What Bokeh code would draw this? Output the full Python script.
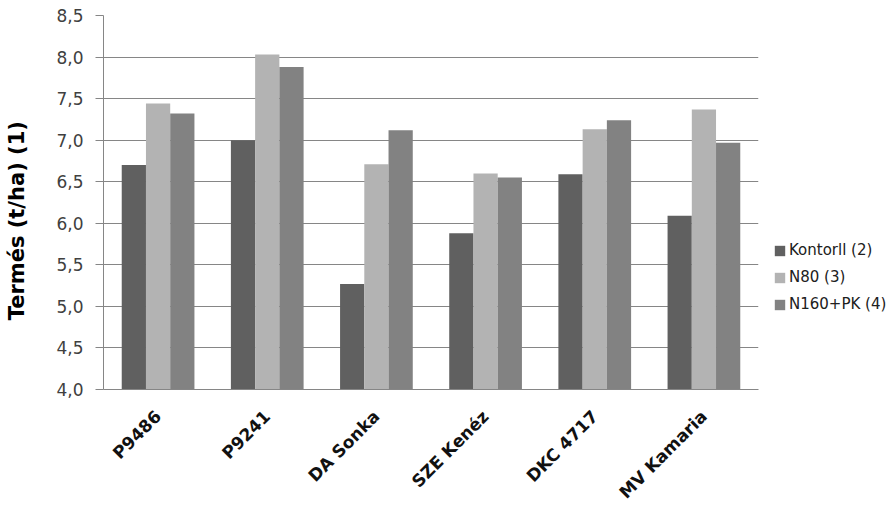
from bokeh.plotting import figure
from bokeh.models import (FactorRange, Range1d, FixedTicker, CustomJSTickFormatter, Legend,
                          LegendItem, ColumnDataSource)
from bokeh.transform import dodge
from bokeh.embed import file_html
from bokeh.resources import INLINE
import math

categories = ["P9486", "P9241", "DA Sonka", "SZE Kenéz", "DKC 4717", "MV Kamaria"]
kontroll = [6.70, 7.00, 5.27, 5.88, 6.59, 6.09]
n80 = [7.44, 8.03, 6.71, 6.60, 7.13, 7.37]
n160pk = [7.32, 7.88, 7.12, 6.55, 7.24, 6.97]
series_names = ["Kontorll (2)", "N80 (3)", "N160+PK (4)"]
y_ticks = [4.0, 4.5, 5.0, 5.5, 6.0, 6.5, 7.0, 7.5, 8.0, 8.5]
y_title = "Termés (t/ha) (1)"
colors = ["#606060", "#b3b3b3", "#828282"]

FONT = "DejaVu Sans"

p = figure(frame_width=655, frame_height=374,
           x_range=FactorRange(factors=categories, range_padding=0),
           y_range=Range1d(4.0, 8.5), output_backend="svg", toolbar_location=None,
           min_border_left=103, min_border_right=10, min_border_top=15, min_border_bottom=100)
p.outline_line_color = None
p.background_fill_color = "white"
p.border_fill_color = "white"

bw = 0.222
source = ColumnDataSource({"cat": categories, "k": kontroll, "n": n80, "m": n160pk})
renderers = []
for col, off, c in zip(["k", "n", "m"], [-bw, 0, bw], colors):
    r = p.vbar(x=dodge("cat", off, range=p.x_range), top=col, bottom=4.0, width=bw,
               source=source, fill_color=c, line_color=None)
    renderers.append(r)

p.yaxis.ticker = FixedTicker(ticks=y_ticks)
p.yaxis.formatter = CustomJSTickFormatter(code="return tick.toFixed(1).replace('.', ',');")
p.yaxis.axis_label = y_title + "\u00a0" * 5
p.yaxis.axis_label_text_font = FONT
p.yaxis.axis_label_text_font_style = "bold"
p.yaxis.axis_label_text_font_size = "21px"
p.yaxis.axis_label_text_color = "#000000"
p.yaxis.axis_label_standoff = 24
p.yaxis.major_label_text_font = FONT
p.yaxis.major_label_text_font_size = "17px"
p.yaxis.major_label_text_color = "#404040"
p.yaxis.major_label_standoff = 12
p.yaxis.axis_line_color = "#868686"
p.yaxis.major_tick_line_color = "#868686"
p.yaxis.major_tick_out = 8
p.yaxis.major_tick_in = 0
p.yaxis.minor_tick_line_color = None

p.xaxis.axis_line_color = "#868686"
p.xaxis.major_tick_line_color = None
p.xaxis.minor_tick_line_color = None
p.xaxis.major_label_orientation = math.pi / 4
p.xaxis.major_label_text_font = FONT
p.xaxis.major_label_text_font_style = "bold"
p.xaxis.major_label_text_font_size = "17px"
p.xaxis.major_label_text_color = "#111111"
p.xaxis.major_label_standoff = 18

p.xgrid.grid_line_color = None
p.ygrid.grid_line_color = "#868686"
p.ygrid.grid_line_width = 1

legend = Legend(items=[LegendItem(label=n, renderers=[r]) for n, r in zip(series_names, renderers)],
                location=(15, 76))
legend.label_text_font = FONT
legend.label_text_font_size = "15px"
legend.label_text_color = "#202020"
legend.glyph_width = 13
legend.glyph_height = 13
legend.spacing = 9
legend.border_line_color = None
legend.background_fill_alpha = 0
legend.label_standoff = 3
legend.padding = 0
legend.margin = 0
p.add_layout(legend, "right")

open("out.html", "w").write(file_html(p, INLINE))
